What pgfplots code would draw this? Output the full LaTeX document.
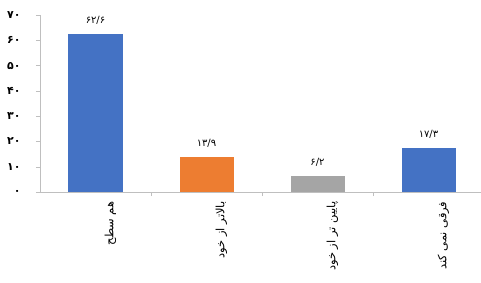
\documentclass[border=0pt]{standalone}
\usepackage{fontspec}
\usepackage{pgfplots}
\pgfplotsset{compat=1.18}
\TeXXeTstate=1
\newfontfamily\arabicfont[Script=Arabic]{DejaVu Sans}
\newfontfamily\digitfont{DejaVu Sans}
\definecolor{cblue}{HTML}{4472C4}
\definecolor{corange}{HTML}{ED7D31}
\definecolor{cgray}{HTML}{A5A5A5}
\definecolor{axisgray}{HTML}{BFBFBF}
\begin{document}
\begin{tikzpicture}
\begin{axis}[
  scale only axis, width=444bp, height=177bp,
  xmin=-0.5, xmax=3.5, ymin=0, ymax=70,
  ybar, bar width=54bp, bar shift=0pt,
  axis x line*=bottom, axis y line*=left,
  axis line style={axisgray},
  tick align=outside, major tick length=4bp,
  every tick/.style={axisgray},
  ytick={0,10,...,70},
  yticklabels={۰,۱۰,۲۰,۳۰,۴۰,۵۰,۶۰,۷۰},
  yticklabel style={font=\digitfont\bfseries\fontsize{11}{11}\selectfont, xshift=-12bp},
  xtick={0.5,1.5,2.5}, xticklabels={},
  extra x ticks={0,1,2,3},
  extra x tick labels={{\arabicfont\beginR هم سطح\endR},{\arabicfont\beginR بالاتر از خود\endR},{\arabicfont\beginR پایین تر از خود\endR},{\arabicfont\beginR فرقی نمی کند\endR}},
  extra x tick style={major tick length=0pt, xticklabel style={rotate=90, anchor=east, font=\fontsize{11.5}{11.5}\selectfont, yshift=-15bp, xshift=-6bp}},
  nodes near coords, point meta=explicit symbolic,
  nodes near coords style={font=\digitfont\fontsize{10}{10}\selectfont, yshift=6bp},
]
\addplot[fill=cblue, draw=none] coordinates {(0,62.6) [۶۲/۶]};
\addplot[fill=corange, draw=none] coordinates {(1,13.9) [۱۳/۹]};
\addplot[fill=cgray, draw=none] coordinates {(2,6.2) [۶/۲]};
\addplot[fill=cblue, draw=none] coordinates {(3,17.3) [۱۷/۳]};
\end{axis}
\pgfresetboundingbox
\path[use as bounding box] ([xshift=-40bp,yshift=-91bp]current axis.south west) rectangle ([xshift=-3bp,yshift=15bp]current axis.north east);
\end{tikzpicture}
\end{document}
